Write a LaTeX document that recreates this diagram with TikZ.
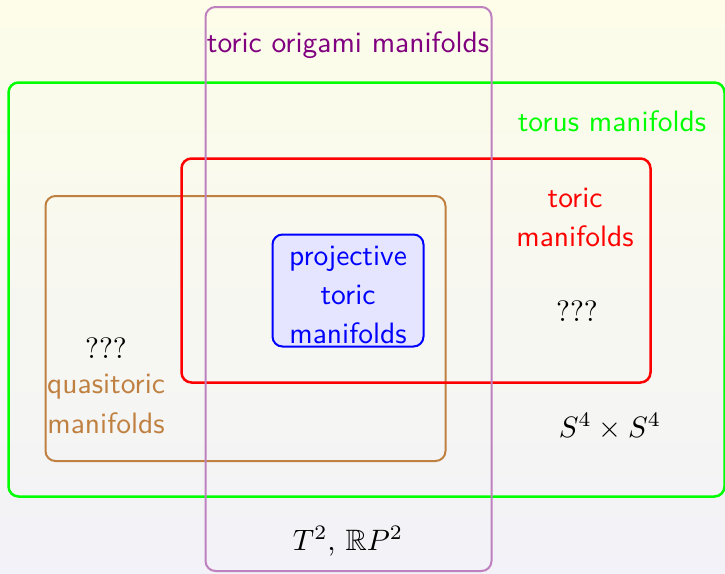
\documentclass[tikz,border=0pt]{standalone}
\usepackage{amssymb}
\definecolor{bgtop}{RGB}{253,253,233}
\definecolor{bgbot}{RGB}{242,242,248}
\definecolor{greenline}{RGB}{0,255,0}
\definecolor{brownc}{RGB}{191,128,64}
\definecolor{purplec}{RGB}{128,0,128}
\definecolor{purpleline}{RGB}{191,128,191}
\tikzset{
  setbox/.style={draw, rounded corners=10pt, inner sep=0pt, outer sep=0pt, line width=2pt},
  lbl/.style={anchor=base, inner sep=0pt, scale=2.95, transform shape, font=\sffamily\fontsize{10}{12}\selectfont},
  mlbl/.style={anchor=base, inner sep=0pt, scale=2.95, transform shape, font=\fontsize{10}{12}\selectfont},
}
\begin{document}
\begin{tikzpicture}[x=1pt,y=-1pt]
\shade[top color=bgtop, bottom color=bgbot] (0,0) rectangle (725,573);
\useasboundingbox (0,0) rectangle (725,573);
% boxes
\node[setbox, draw=greenline, line width=2.5pt, minimum width=716pt, minimum height=414pt] (torus) at (366.5,289.5) {};
\node[setbox, draw=brownc, minimum width=400pt, minimum height=265pt] (quasi) at (245.5,328.5) {};
\node[setbox, draw=red, line width=2.5pt, minimum width=469pt, minimum height=224pt] (toric) at (416,270.5) {};
\node[setbox, draw=blue, fill=blue!10, minimum width=151pt, minimum height=112pt] (proj) at (348,290.5) {};
\node[setbox, draw=purpleline, minimum width=286pt, minimum height=564pt] (origami) at (348.5,289) {};
% labels
\node[lbl, text=purplec] (lorigami) at (348,52) {toric origami manifolds};
\node[lbl, text=greenline] (ltorus) at (612,131) {torus manifolds};
\node[lbl, text=red] (ltoric1) at (575,207) {toric};
\node[lbl, text=red] (ltoric2) at (575,246) {manifolds};
\node[mlbl] (qtoric) at (577,321) {$???$};
\node[mlbl] (qquasi) at (106,358) {$???$};
\node[lbl, text=brownc] (lquasi1) at (106,393) {quasitoric};
\node[lbl, text=brownc] (lquasi2) at (106,433) {manifolds};
\node[lbl, text=blue] (lproj1) at (348,265) {projective};
\node[lbl, text=blue] (lproj2) at (348,304) {toric};
\node[lbl, text=blue] (lproj3) at (348,343) {manifolds};
\node[mlbl] (ltrp) at (348,550) {$T^2$, $\mathbb{R}P^2$};
\node[mlbl] (lss) at (610,437) {$S^4\times S^4$};
\end{tikzpicture}
\end{document}
